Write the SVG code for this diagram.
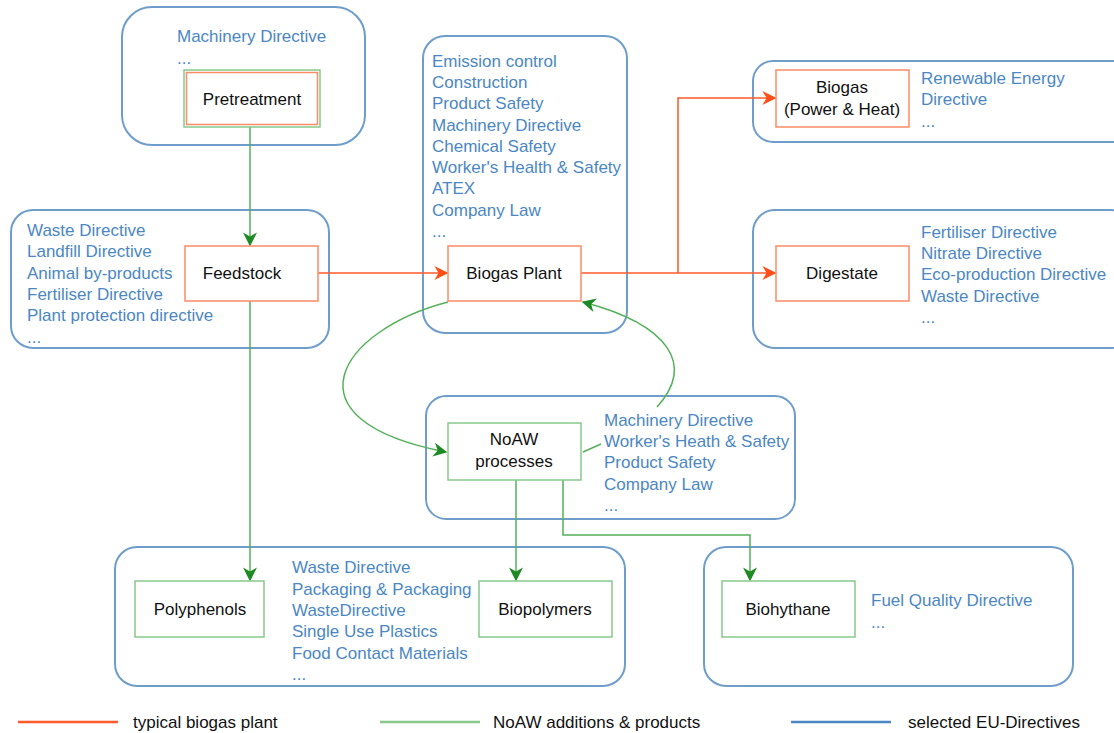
<svg xmlns="http://www.w3.org/2000/svg" width="1114" height="733" viewBox="0 0 1114 733">
<style>
.grp{fill:#fff;stroke:#6f9dcb;stroke-width:2}
.ob{fill:#fff;stroke:#ff8a66;stroke-width:1.5}
.gb{fill:#fff;stroke:#86c98a;stroke-width:1.5}
.lbl{font-family:"Liberation Sans",Arial,sans-serif;font-size:17px;fill:#111}
.dir{font-family:"Liberation Sans",Arial,sans-serif;font-size:17px;fill:#4b87c3}
.leg{font-family:"Liberation Sans",Arial,sans-serif;font-size:17px;fill:#111}
.ol{fill:none;stroke:#ff5a2b;stroke-width:1.5}
.gl{fill:none;stroke:#55b05a;stroke-width:1.5}
</style>
<defs>
<marker id="ao" viewBox="0 0 10 10" refX="9" refY="5" markerWidth="14" markerHeight="14" markerUnits="userSpaceOnUse" orient="auto"><path d="M0,0 L10,5 L0,10 L3,5 z" fill="#ff4e17"/></marker>
<marker id="ag" viewBox="0 0 10 10" refX="9" refY="5" markerWidth="14" markerHeight="14" markerUnits="userSpaceOnUse" orient="auto"><path d="M0,0 L10,5 L0,10 L3,5 z" fill="#1e8a24"/></marker>
</defs>
<rect width="1114" height="733" fill="#fff"/>

<g id="pretreatment-group">
<rect class="grp" x="122" y="7" width="243" height="138" rx="30"/>
<text class="dir" x="177" y="42">Machinery Directive</text>
<text class="dir" x="177" y="64">...</text>
</g>
<g id="feedstock-group">
<rect class="grp" x="11" y="210" width="318" height="138" rx="22"/>
<text class="dir" x="27" y="236">Waste Directive</text>
<text class="dir" x="27" y="257">Landfill Directive</text>
<text class="dir" x="27" y="279">Animal by-products</text>
<text class="dir" x="27" y="300">Fertiliser Directive</text>
<text class="dir" x="27" y="321">Plant protection directive</text>
<text class="dir" x="27" y="343">...</text>
</g>
<g id="biogas-plant-group">
<rect class="grp" x="423" y="36" width="204" height="297" rx="22"/>
<text class="dir" x="432" y="67">Emission control</text>
<text class="dir" x="432" y="88">Construction</text>
<text class="dir" x="432" y="109">Product Safety</text>
<text class="dir" x="432" y="131">Machinery Directive</text>
<text class="dir" x="432" y="152">Chemical Safety</text>
<text class="dir" x="432" y="173">Worker's Health &amp; Safety</text>
<text class="dir" x="432" y="194">ATEX</text>
<text class="dir" x="432" y="216">Company Law</text>
<text class="dir" x="432" y="237">...</text>
</g>
<g id="biogas-power-group">
<rect class="grp" x="753" y="61" width="380" height="81" rx="20"/>
<text class="dir" x="921" y="84">Renewable Energy</text>
<text class="dir" x="921" y="105">Directive</text>
<text class="dir" x="921" y="127">...</text>
</g>
<g id="digestate-group">
<rect class="grp" x="753" y="210" width="380" height="138" rx="22"/>
<text class="dir" x="921" y="238">Fertiliser Directive</text>
<text class="dir" x="921" y="259">Nitrate Directive</text>
<text class="dir" x="921" y="280">Eco-production Directive</text>
<text class="dir" x="921" y="302">Waste Directive</text>
<text class="dir" x="921" y="323">...</text>
</g>
<g id="noaw-group">
<rect class="grp" x="426" y="396" width="369" height="123" rx="20"/>
<text class="dir" x="604" y="426">Machinery Directive</text>
<text class="dir" x="604" y="447">Worker's Heath &amp; Safety</text>
<text class="dir" x="604" y="468">Product Safety</text>
<text class="dir" x="604" y="490">Company Law</text>
<text class="dir" x="604" y="511">...</text>
</g>
<g id="products-group">
<rect class="grp" x="115" y="547" width="510" height="139" rx="22"/>
<text class="dir" x="292" y="573">Waste Directive</text>
<text class="dir" x="292" y="595">Packaging &amp; Packaging</text>
<text class="dir" x="292" y="616">WasteDirective</text>
<text class="dir" x="292" y="637">Single Use Plastics</text>
<text class="dir" x="292" y="659">Food Contact Materials</text>
<text class="dir" x="292" y="680">...</text>
</g>
<g id="biohythane-group">
<rect class="grp" x="704" y="547" width="369" height="139" rx="22"/>
<text class="dir" x="871" y="606">Fuel Quality Directive</text>
<text class="dir" x="871" y="628">...</text>
</g>

<g id="connectors">
<line class="gl" x1="250" y1="127" x2="250" y2="245" marker-end="url(#ag)"/>
<line class="ol" x1="318" y1="273" x2="447" y2="273" marker-end="url(#ao)"/>
<line class="ol" x1="581" y1="273" x2="775" y2="273" marker-end="url(#ao)"/>
<polyline class="ol" points="678,273 678,98 775,98" marker-end="url(#ao)"/>
<line class="gl" x1="250" y1="301" x2="250" y2="580" marker-end="url(#ag)"/>
<path class="gl" d="M448,302 C340,330 280,420 446,452" marker-end="url(#ag)"/>
<path class="gl" d="M657,407 C695,365 670,325 583,302" marker-end="url(#ag)"/>
<line class="gl" x1="583" y1="452" x2="601" y2="444"/>
<line class="gl" x1="516" y1="480" x2="516" y2="580" marker-end="url(#ag)"/>
<polyline class="gl" points="563,480 563,535 750,535 750,580" marker-end="url(#ag)"/>
</g>

<g id="pretreatment">
<rect class="gb" x="184" y="70" width="136" height="57"/>
<rect class="ob" x="186.5" y="72.5" width="131" height="52"/>
<text class="lbl" x="252" y="105" text-anchor="middle">Pretreatment</text>
</g>
<g id="feedstock">
<rect class="ob" x="185" y="246" width="133" height="55"/>
<text class="lbl" x="242" y="279" text-anchor="middle">Feedstock</text>
</g>
<g id="biogas-plant">
<rect class="ob" x="448" y="246" width="133" height="55"/>
<text class="lbl" x="514" y="279" text-anchor="middle">Biogas Plant</text>
</g>
<g id="biogas-power">
<rect class="ob" x="776" y="70" width="133" height="57"/>
<text class="lbl" x="842" y="93" text-anchor="middle">Biogas</text>
<text class="lbl" x="842" y="115" text-anchor="middle">(Power &amp; Heat)</text>
</g>
<g id="digestate">
<rect class="ob" x="776" y="246" width="133" height="55"/>
<text class="lbl" x="842" y="279" text-anchor="middle">Digestate</text>
</g>
<g id="noaw">
<rect class="gb" x="448" y="423" width="133" height="57"/>
<text class="lbl" x="514" y="445" text-anchor="middle">NoAW</text>
<text class="lbl" x="514" y="467" text-anchor="middle">processes</text>
</g>
<g id="polyphenols">
<rect class="gb" x="135" y="581" width="129" height="56"/>
<text class="lbl" x="200" y="615" text-anchor="middle">Polyphenols</text>
</g>
<g id="biopolymers">
<rect class="gb" x="479" y="581" width="133" height="56"/>
<text class="lbl" x="545" y="615" text-anchor="middle">Biopolymers</text>
</g>
<g id="biohythane">
<rect class="gb" x="722" y="581" width="133" height="56"/>
<text class="lbl" x="788" y="615" text-anchor="middle">Biohythane</text>
</g>

<g id="legend">
<line x1="18" y1="722" x2="118" y2="722" stroke="#ff5a2b" stroke-width="2.5"/>
<text class="leg" x="133" y="728">typical biogas plant</text>
<line x1="380" y1="722" x2="480" y2="722" stroke="#86c98a" stroke-width="2.5"/>
<text class="leg" x="493" y="728">NoAW additions &amp; products</text>
<line x1="791" y1="722" x2="891" y2="722" stroke="#4b87c3" stroke-width="2.5"/>
<text class="leg" x="908" y="728">selected EU-Directives</text>
</g>
</svg>
